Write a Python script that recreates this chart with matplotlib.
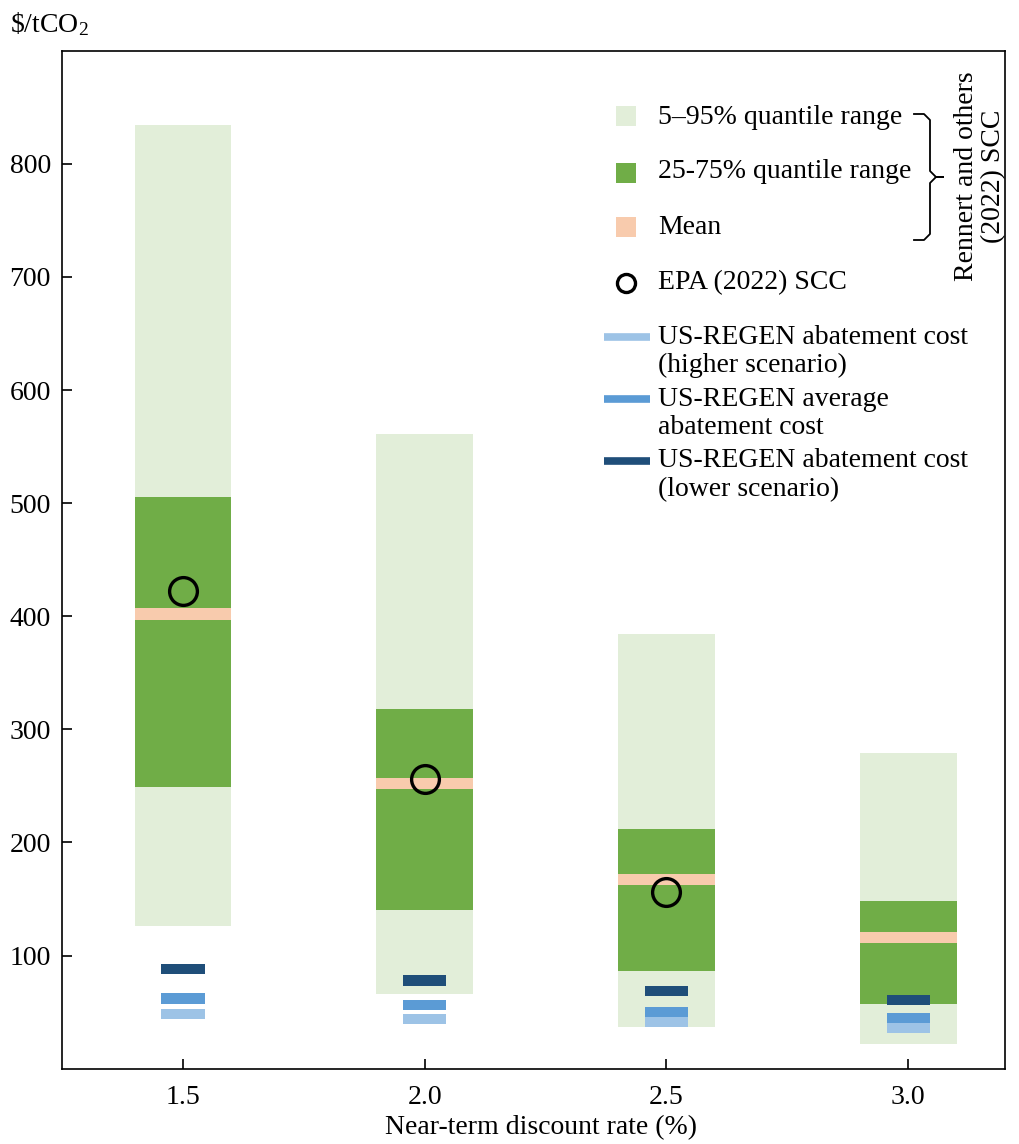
import matplotlib
matplotlib.use("Agg")
import matplotlib.pyplot as plt
from matplotlib.lines import Line2D

plt.rcParams["font.family"] = ["Liberation Serif", "DejaVu Serif"]
plt.rcParams["mathtext.fontset"] = "custom"
plt.rcParams["mathtext.rm"] = "Liberation Serif"
plt.rcParams["mathtext.it"] = "Liberation Serif:italic"

# Near-term discount rates (%)
rates = [1.5, 2.0, 2.5, 3.0]

# Rennert and others (2022) SCC distribution, $/tCO2
q05 = [126, 66, 37, 22]
q95 = [834, 561, 384, 279]
q25 = [249, 140, 86, 57]
q75 = [505, 318, 212, 148]
scc_mean = [402, 252, 167, 116]

# EPA (2022) SCC, $/tCO2 (no value at 3.0%)
epa_rates = [1.5, 2.0, 2.5]
epa_scc = [422, 256, 156]

# US-REGEN abatement cost, $/tCO2
regen_lower = [88, 78, 69, 61]
regen_avg = [62, 56, 50, 45]
regen_higher = [48, 44, 41, 36]

yticks = [100, 200, 300, 400, 500, 600, 700, 800]
xticks = [1.5, 2.0, 2.5, 3.0]

c_light = "#E2EED9"
c_green = "#70AD47"
c_mean = "#F8CBAD"
c_dark_blue = "#1F4E79"
c_mid_blue = "#5B9BD5"
c_light_blue = "#9DC3E6"

W, H = 1020, 1144
fig = plt.figure(figsize=(W / 100, H / 100), dpi=100)
ax_l, ax_r, ax_t, ax_b = 62, 1005, 50.7, 1068.7
ax = fig.add_axes([ax_l / W, 1 - ax_b / H, (ax_r - ax_l) / W, (ax_b - ax_t) / H])

bw = 0.2
mw = 0.09
band = 10
mk = 9

ax.bar(rates, [t - b for t, b in zip(q95, q05)], bottom=q05, width=bw,
       color=c_light, linewidth=0, zorder=1)
ax.bar(rates, [t - b for t, b in zip(q75, q25)], bottom=q25, width=bw,
       color=c_green, linewidth=0, zorder=2)
ax.bar(rates, [band] * len(rates), bottom=[m - band / 2 for m in scc_mean],
       width=bw, color=c_mean, linewidth=0, zorder=3)

for vals, col in [(regen_lower, c_dark_blue), (regen_avg, c_mid_blue),
                  (regen_higher, c_light_blue)]:
    ax.bar(rates, [mk] * len(rates), bottom=[v - mk / 2 for v in vals],
           width=mw, color=col, linewidth=0, zorder=4)

ax.plot(epa_rates, epa_scc, linestyle="none", marker="o", ms=20,
        mfc="none", mec="black", mew=2.4, zorder=5)

fs = 20
ax.set_xlim(1.25, 3.2)
ax.set_ylim(0, 900)
ax.set_xticks(xticks)
ax.set_xticklabels([f"{v:.1f}" for v in xticks])
ax.set_yticks(yticks)
ax.tick_params(direction="in", length=7, width=1.2, labelsize=fs)
ax.tick_params(axis="x", pad=12)
ax.tick_params(axis="y", pad=8)
for s in ax.spines.values():
    s.set_linewidth(1.2)


def fx(px):
    return px / W


def fy(py):
    return 1 - py / H


# Axis titles
fig.text(fx(541), fy(1128), "Near-term discount rate (%)", fontsize=fs,
         ha="center", va="center")
fig.text(fx(10), fy(24), r"\$/tCO$_2$", fontsize=fs, ha="left", va="center")

# Legend, drawn in figure pixel positions
sq = 20
for py, col in [(116, c_light), (172.7, c_green), (226.7, c_mean)]:
    fig.patches.append(plt.Rectangle((fx(616), fy(py + sq / 2)), sq / W, sq / H,
                                     transform=fig.transFigure, color=col,
                                     linewidth=0))
fig.add_artist(Line2D([fx(626)], [fy(283)], marker="o", ms=13, mfc="none",
                      mec="black", mew=2.4, linestyle="none"))
for py, col in [(337, c_light_blue), (399, c_mid_blue), (461, c_dark_blue)]:
    fig.add_artist(Line2D([fx(604), fx(650)], [fy(py), fy(py)], color=col,
                          linewidth=5.5, solid_capstyle="butt"))

tx = fx(658)
labels = [
    (117, "5\u201395% quantile range"),
    (172, "25-75% quantile range"),
    (228, "Mean"),
    (283, "EPA (2022) SCC"),
    (337, "US-REGEN abatement cost"),
    (365, "(higher scenario)"),
    (399, "US-REGEN average"),
    (428, "abatement cost"),
    (461, "US-REGEN abatement cost"),
    (490, "(lower scenario)"),
]
for py, t in labels:
    fig.text(tx, fy(py), t, fontsize=fs, ha="left", va="center")

# Curly bracket grouping the SCC entries
bx0, bx1, btip = 914, 930, 943
ytop, ymid, ybot = 114, 177, 240
r = 6
bracket_x = [bx0, bx1 - r, bx1, bx1, bx1 + r, btip, bx1 + r, bx1, bx1, bx1 - r, bx0]
bracket_y = [ytop, ytop, ytop + r, ymid - r, ymid, ymid, ymid, ymid + r, ybot - r, ybot, ybot]
fig.add_artist(Line2D([fx(v) for v in bracket_x], [fy(v) for v in bracket_y],
                      color="black", linewidth=1.3))

fig.text(fx(980), fy(176), "Rennert and others\n(2022) SCC", fontsize=fs,
         rotation=90, ha="center", va="center", multialignment="center",
         linespacing=1.15)

fig.savefig("out.png", dpi=100)
